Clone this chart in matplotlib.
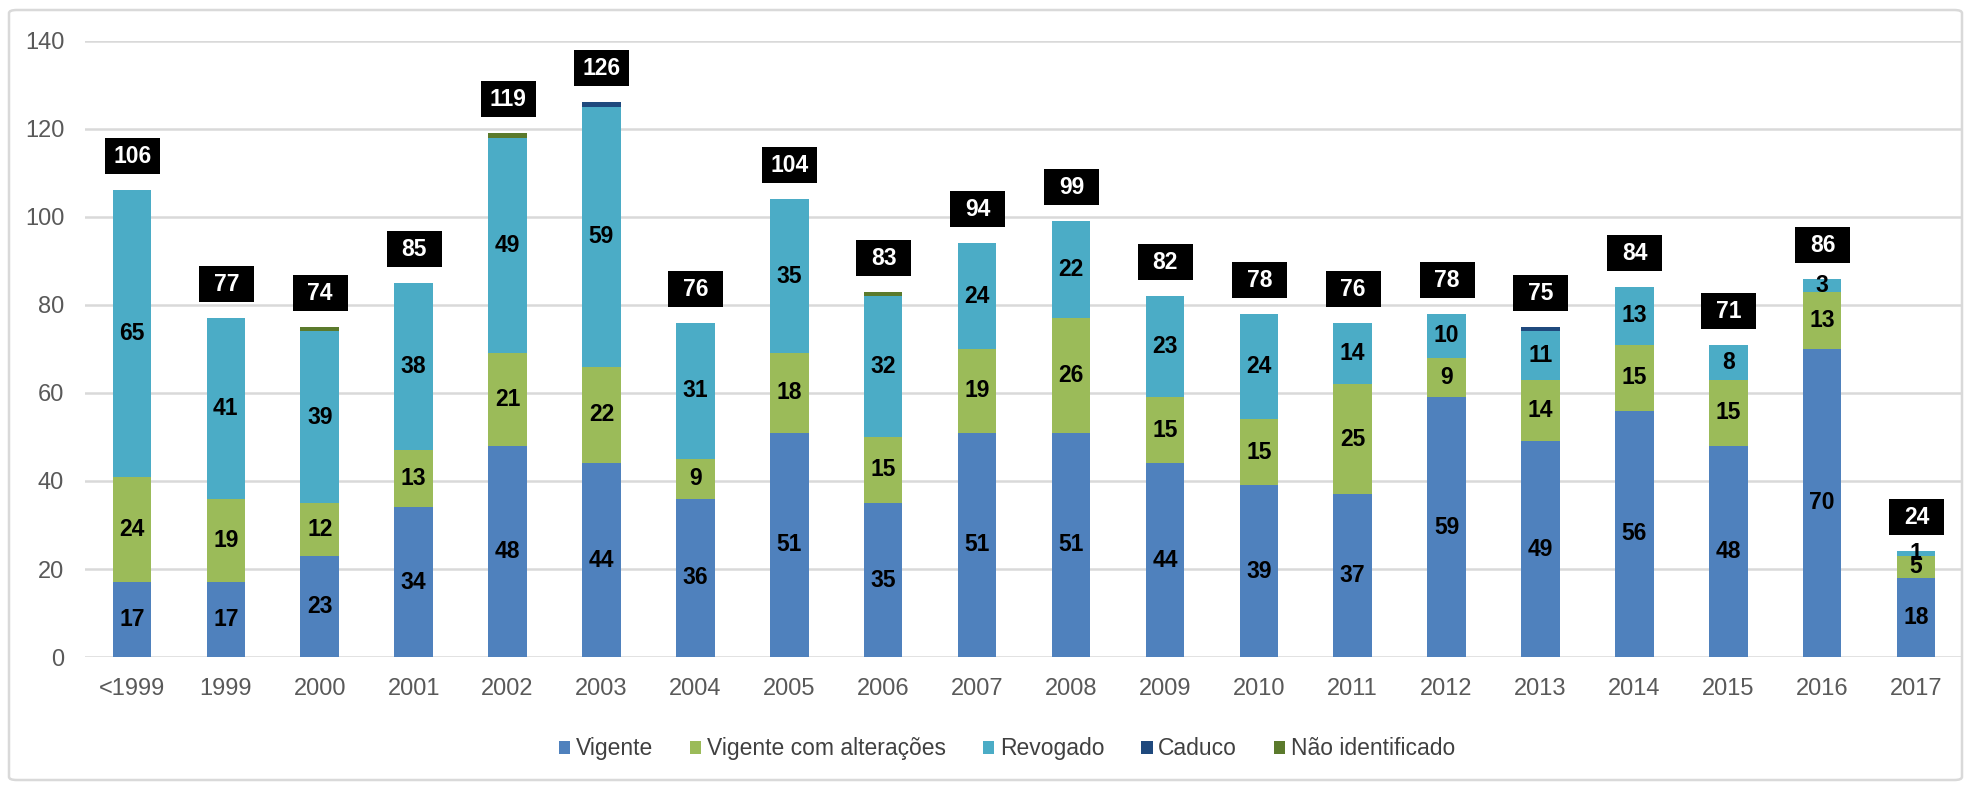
import matplotlib
matplotlib.use("Agg")
import matplotlib.pyplot as plt
import matplotlib.transforms as mtransforms
from matplotlib.patches import Rectangle, FancyBboxPatch
import numpy as np

plt.rcParams['font.family'] = ['Liberation Sans', 'DejaVu Sans']

# dados
anos = ['<1999', '1999', '2000', '2001', '2002', '2003', '2004', '2005', '2006', '2007',
        '2008', '2009', '2010', '2011', '2012', '2013', '2014', '2015', '2016', '2017']
vigente     = [17, 17, 23, 34, 48, 44, 36, 51, 35, 51, 51, 44, 39, 37, 59, 49, 56, 48, 70, 18]
alteracoes  = [24, 19, 12, 13, 21, 22,  9, 18, 15, 19, 26, 15, 15, 25,  9, 14, 15, 15, 13,  5]
revogado    = [65, 41, 39, 38, 49, 59, 31, 35, 32, 24, 22, 23, 24, 14, 10, 11, 13,  8,  3,  1]
caduco      = [ 0,  0,  0,  0,  0,  1,  0,  0,  0,  0,  0,  0,  0,  0,  0,  1,  0,  0,  0,  0]
nao_ident   = [ 0,  0,  1,  0,  1,  0,  0,  0,  1,  0,  0,  0,  0,  0,  0,  0,  0,  0,  0,  0]
totais      = [106, 77, 74, 85, 119, 126, 76, 104, 83, 94, 99, 82, 78, 76, 78, 75, 84, 71, 86, 24]

series = [
    ('Vigente', vigente, '#4F81BD', True),
    ('Vigente com alterações', alteracoes, '#9BBB59', True),
    ('Revogado', revogado, '#4BACC6', True),
    ('Caduco', caduco, '#1F497D', False),
    ('Não identificado', nao_ident, '#5B7A2C', False),
]

fig = plt.figure(figsize=(19.67, 7.85), dpi=100)
ax = fig.add_axes([0.0432, 0.163, 0.9548, 0.785])

x = np.arange(len(anos))
base = np.zeros(len(anos))
for nome, vals, cor, rotula in series:
    vals = np.array(vals, dtype=float)
    ax.bar(x, vals, 0.41, bottom=base, color=cor, label=nome, zorder=3)
    if rotula:
        for i, v in enumerate(vals):
            if v > 0:
                ax.text(x[i], base[i] + v / 2, str(int(v)), ha='center', va='center',
                        fontsize=16.5, fontweight='bold', color='black', zorder=4)
    base += vals

# caixas pretas com o total
for i, t in enumerate(totais):
    trans = fig.dpi_scale_trans + mtransforms.ScaledTranslation(x[i], base[i], ax.transData)
    ax.add_patch(Rectangle((-0.27, 0.16), 0.55, 0.36, transform=trans,
                           facecolor='black', edgecolor='none', zorder=5, clip_on=False))
    ax.text(0.005, 0.335, str(t), transform=trans, ha='center', va='center',
            color='white', fontsize=16.5, fontweight='bold', zorder=6, clip_on=False)

ax.set_xlim(-0.5, len(anos) - 0.5)
ax.set_ylim(0, 140)
ax.set_yticks(range(0, 141, 20))
ax.set_xticks(x)
ax.set_xticklabels(anos)
ax.tick_params(axis='both', length=0, labelsize=17, labelcolor='#595959')
ax.tick_params(axis='y', pad=15)
ax.tick_params(axis='x', pad=15)
ax.grid(axis='y', color='#D9D9D9', linewidth=1.8, zorder=0)
for s in ax.spines.values():
    s.set_visible(False)

leg = fig.legend(loc='center', bbox_to_anchor=(0.512, 0.046), ncol=5, frameon=False,
                 fontsize=16.5, handlelength=0.5, handleheight=0.5, handletextpad=0.25,
                 columnspacing=1.6)
for t in leg.get_texts():
    t.set_color('#404040')

# moldura externa
fig.patches.append(FancyBboxPatch((9 / 1967, 5 / 785), 1953 / 1967, 770 / 785,
                                  boxstyle='round,pad=0,rounding_size=0.004',
                                  transform=fig.transFigure, facecolor='none',
                                  edgecolor='#D9D9D9', linewidth=1.8))

fig.savefig('out.png', dpi=100)
